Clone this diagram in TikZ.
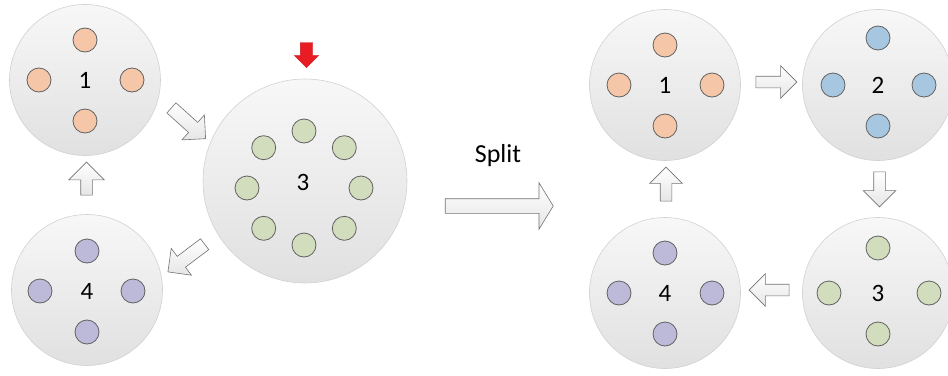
\documentclass[tikz,border=0pt]{standalone}
\usepackage{fontspec}
\setmainfont{Carlito}
\usetikzlibrary{shapes.arrows}
\definecolor{orangeC}{RGB}{245,199,168}
\definecolor{blueC}{RGB}{167,199,224}
\definecolor{greenC}{RGB}{210,221,190}
\definecolor{purpleC}{RGB}{189,185,216}
\definecolor{redC}{RGB}{232,28,34}
\tikzset{
  bigc/.style={circle, minimum size=151pt, inner sep=0pt, draw=black!18, line width=0.6pt, top color=black!3, bottom color=black!12},
  smallc/.style={circle, minimum size=24pt, inner sep=0pt, draw=black!62, line width=0.8pt},
  lbl/.style={inner sep=0pt, font=\fontsize{25}{25}\selectfont},
  blk/.style={single arrow, draw=black!55, line width=0.6pt, top color=white, bottom color=black!10, inner xsep=0pt, single arrow head indent=0pt, outer sep=0pt},
}
\begin{document}
\begin{tikzpicture}[x=1pt,y=-1pt]
\useasboundingbox (0,0) rectangle (948,375);
% ---------- left part ----------
\node[bigc] (L1) at (85,80) {};
\node[smallc, fill=orangeC] (L1t) at (85,40) {};
\node[smallc, fill=orangeC] (L1b) at (85,121) {};
\node[smallc, fill=orangeC] (L1l) at (39,80) {};
\node[smallc, fill=orangeC] (L1r) at (132,80) {};
\node[lbl] (L1n) at (85,80) {1};

\node[bigc, minimum size=204pt] (L3) at (305,181) {};
\foreach \i/\a in {1/0,2/45,3/90,4/135,5/180,6/225,7/270,8/315}
  \node[smallc, fill=greenC] (L3s\i) at ([shift={(\a:57)}]304,188) {};
\node[lbl] (L3n) at (303,182) {3};

\node[bigc] (L4) at (87,290) {};
\node[smallc, fill=purpleC] (L4t) at (87,251) {};
\node[smallc, fill=purpleC] (L4b) at (87,332) {};
\node[smallc, fill=purpleC] (L4l) at (40,291) {};
\node[smallc, fill=purpleC] (L4r) at (133,291) {};
\node[lbl] (L4n) at (87,291) {4};

\node[blk, rotate=-42, minimum height=46pt, inner ysep=6.5pt, single arrow head extend=10pt] (aL13) at (186,121) {};
\node[blk, rotate=-143, minimum height=46pt, inner ysep=6.5pt, single arrow head extend=10pt] (aL34) at (189,256) {};
\node[blk, rotate=90, minimum height=33pt, inner ysep=5.5pt, single arrow head extend=12pt] (aL41) at (86.5,181.5) {};
\node[single arrow, rotate=-90, minimum height=25pt, inner ysep=6pt, inner xsep=0pt, single arrow head extend=6pt, single arrow head indent=0pt, fill=redC, draw=redC!85!black, line width=0.3pt] (red) at (306.5,52) {};

% ---------- split ----------
\node[blk, minimum height=108pt, inner ysep=7pt, single arrow head extend=16pt, single arrow tip angle=117] (split) at (497,206) {};
\node[inner sep=0pt, font=\fontsize{26}{26}\selectfont] (splitt) at (498,156) {Split};

% ---------- right part ----------
\node[bigc] (R1) at (665,85) {};
\node[smallc, fill=orangeC] (R1t) at (665,45) {};
\node[smallc, fill=orangeC] (R1b) at (665,126) {};
\node[smallc, fill=orangeC] (R1l) at (619,85) {};
\node[smallc, fill=orangeC] (R1r) at (712,85) {};
\node[lbl] (R1n) at (665,85) {1};

\node[bigc] (R2) at (878,85) {};
\node[smallc, fill=blueC] (R2t) at (878,38) {};
\node[smallc, fill=blueC] (R2b) at (878,126) {};
\node[smallc, fill=blueC] (R2l) at (833,85) {};
\node[smallc, fill=blueC] (R2r) at (924,85) {};
\node[lbl] (R2n) at (878,85) {2};

\node[bigc] (R3) at (878,293) {};
\node[smallc, fill=greenC] (R3t) at (878,248) {};
\node[smallc, fill=greenC] (R3b) at (878,334) {};
\node[smallc, fill=greenC] (R3l) at (829,293) {};
\node[smallc, fill=greenC] (R3r) at (929,293) {};
\node[lbl] (R3n) at (878,293) {3};

\node[bigc] (R4) at (665,293) {};
\node[smallc, fill=purpleC] (R4t) at (665,253) {};
\node[smallc, fill=purpleC] (R4b) at (665,334) {};
\node[smallc, fill=purpleC] (R4l) at (619,293) {};
\node[smallc, fill=purpleC] (R4r) at (712,293) {};
\node[lbl] (R4n) at (665,293) {4};

\node[blk, minimum height=41pt, inner ysep=5.5pt, single arrow head extend=10.5pt] (aR12) at (773.5,82) {};
\node[blk, rotate=-90, minimum height=35pt, inner ysep=5.5pt, single arrow head extend=10.5pt] (aR23) at (879.5,186.5) {};
\node[blk, rotate=180, minimum height=40pt, inner ysep=5.5pt, single arrow head extend=10.5pt] (aR34) at (772,290) {};
\node[blk, rotate=90, minimum height=34pt, inner ysep=5.5pt, single arrow head extend=10.5pt] (aR41) at (666,187) {};
\end{tikzpicture}
\end{document}
